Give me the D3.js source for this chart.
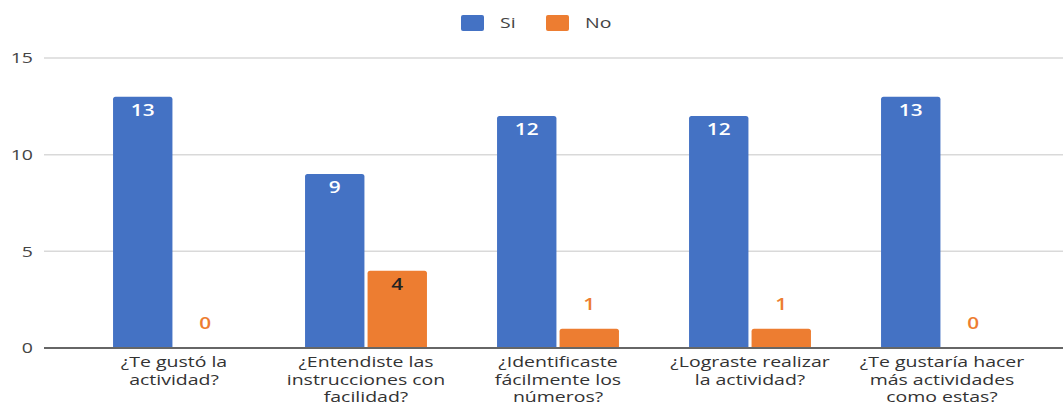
<!DOCTYPE html>
<html>
<head>
<meta charset="utf-8">
<script src="https://cdn.jsdelivr.net/npm/d3@7"></script>
<style>
  html, body { margin: 0; padding: 0; background: #fff; }
  svg { display: block; font-family: "Open Sans", "Noto Sans", sans-serif; }
</style>
</head>
<body>
<svg id="chart" width="1063" height="404"></svg>
<script>
// Survey questions and answer counts
const categories = [
  ["¿Te gustó la", "actividad?"],
  ["¿Entendiste las", "instrucciones con", "facilidad?"],
  ["¿Identificaste", "fácilmente los", "números?"],
  ["¿Lograste realizar", "la actividad?"],
  ["¿Te gustaría hacer", "más actividades", "como estas?"]
];
const seriesNames = ["Si", "No"];
const siValues = [13, 9, 12, 12, 13];
const noValues = [0, 4, 1, 1, 0];
const yTicks = [0, 5, 10, 15];

const colors = { Si: "#4472C4", No: "#ED7D31" };

const svg = d3.select("#chart");
const plot = { left: 44, right: 1063, top: 58, bottom: 348 };
// Text in this chart is set slightly wide
const STRETCH = 1.3;

const keys = categories.map(c => c.join(" "));
const rows = keys.map((k, i) => ({ key: k, lines: categories[i], Si: siValues[i], No: noValues[i] }));

const y = d3.scaleLinear().domain([0, 15]).range([plot.bottom, plot.top]);

const pad = 0.365;
const x0 = d3.scaleBand().domain(keys).range([78, 1038]).paddingInner(pad).paddingOuter(pad / 2);
const x1 = d3.scaleBand().domain(seriesNames).range([0, x0.bandwidth()]).paddingInner(0.05);

function place(sel, fx, fy) {
  return sel.attr("transform", (d, i) => `translate(${fx(d, i)},${fy(d, i)}) scale(${STRETCH},1)`);
}

// Gridlines
svg.append("g")
  .selectAll("line")
  .data(yTicks.filter(t => t > 0))
  .join("line")
  .attr("x1", plot.left).attr("x2", plot.right)
  .attr("y1", d => y(d)).attr("y2", d => y(d))
  .attr("stroke", "#d9d9d9").attr("stroke-width", 1.5);

// Y tick labels
place(svg.append("g")
  .selectAll("text")
  .data(yTicks)
  .join("text"), () => 33, d => y(d))
  .attr("dy", "0.35em")
  .attr("text-anchor", "end")
  .attr("font-size", 15)
  .attr("fill", "#444")
  .text(d => d);

// Bars with rounded tops
function barPath(x, w, yTop, yBase, r) {
  const h = yBase - yTop;
  if (h <= 0) return "";
  r = Math.min(r, h, w / 2);
  return `M${x},${yBase}V${yTop + r}Q${x},${yTop} ${x + r},${yTop}H${x + w - r}Q${x + w},${yTop} ${x + w},${yTop + r}V${yBase}Z`;
}

const groups = svg.append("g")
  .selectAll("g")
  .data(rows)
  .join("g")
  .attr("transform", d => `translate(${x0(d.key)},0)`);

groups.selectAll("path")
  .data(d => seriesNames.map(s => ({ s, v: d[s] })))
  .join("path")
  .attr("d", d => barPath(x1(d.s), x1.bandwidth(), y(d.v), y(0), 2.5))
  .attr("fill", d => colors[d.s]);

// Value labels: inside the top of tall bars, above short ones
const isInside = d => y(0) - y(d.v) > 30;
place(groups.selectAll("text.val")
  .data(d => seriesNames.map(s => ({ s, v: d[s] })))
  .join("text")
  .attr("class", "val"),
  d => x1(d.s) + x1.bandwidth() / 2,
  d => isInside(d) ? y(d.v) + 19 : y(d.v) - 19)
  .attr("text-anchor", "middle")
  .attr("font-size", 16)
  .attr("font-weight", 600)
  .attr("fill", d => {
    if (!isInside(d)) return colors[d.s];
    return d.s === "Si" ? "#ffffff" : "#222";
  })
  .text(d => d.v);

// Baseline
svg.append("line")
  .attr("x1", plot.left).attr("x2", plot.right)
  .attr("y1", y(0)).attr("y2", y(0))
  .attr("stroke", "#666").attr("stroke-width", 2);

// Category labels, one text per line
const catLines = rows.flatMap(r => r.lines.map((t, i) => ({ key: r.key, t, i })));
place(svg.append("g")
  .selectAll("text")
  .data(catLines)
  .join("text"),
  d => x0(d.key) + x0.bandwidth() / 2,
  d => 367 + d.i * 17.5)
  .attr("text-anchor", "middle")
  .attr("font-size", 15)
  .attr("fill", "#333")
  .text(d => d.t);

// Legend
const legend = svg.append("g");
const legendItems = [{ s: "Si", x: 461 }, { s: "No", x: 546 }];
legend.selectAll("rect")
  .data(legendItems)
  .join("rect")
  .attr("x", d => d.x).attr("y", 15)
  .attr("width", 23).attr("height", 16)
  .attr("rx", 2)
  .attr("fill", d => colors[d.s]);
place(legend.selectAll("text")
  .data(legendItems)
  .join("text"), d => d.x + 39, () => 23)
  .attr("dy", "0.35em")
  .attr("font-size", 15)
  .attr("fill", "#444")
  .text(d => d.s);
</script>
</body>
</html>
